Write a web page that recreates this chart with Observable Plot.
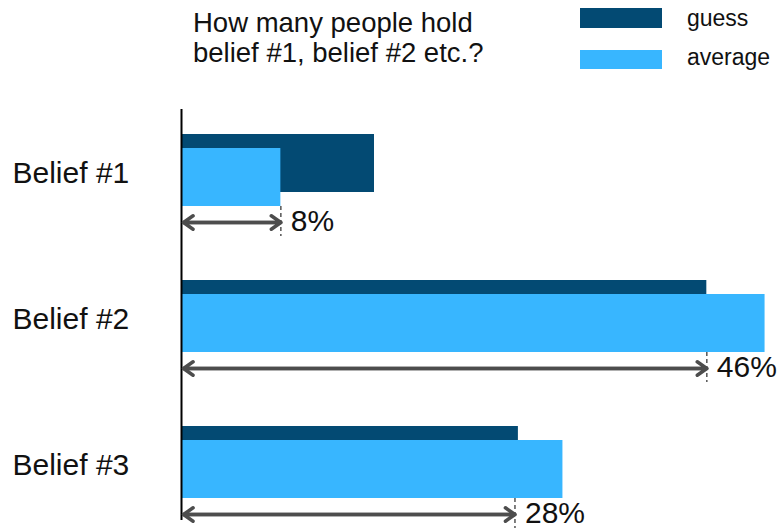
<!DOCTYPE html>
<html>
<head>
<meta charset="utf-8">
<script src="https://cdn.jsdelivr.net/npm/d3@7"></script>
<script src="https://cdn.jsdelivr.net/npm/@observablehq/plot@0.6"></script>
<style>
  body { margin: 0; background: #fff; font-family: "Liberation Sans", Arial, sans-serif; color: #111; }
  #wrap { position: relative; width: 779px; }
  #head { position: relative; height: 80px; }
  .title { position: absolute; left: 193px; top: 8.3px; font-size: 27.5px; line-height: 30px; white-space: nowrap; }
  .sw { position: absolute; left: 580px; width: 82px; height: 19.5px; }
  .lab { position: absolute; left: 687px; font-size: 23px; line-height: 23px; white-space: nowrap; }
  svg { display: block; }
</style>
</head>
<body>
<div id="wrap">
  <div id="head"></div>
  <div id="chart"></div>
</div>
<script>
// ---- data ----
const beliefs = ["Belief #1", "Belief #2", "Belief #3"];
const guessValues = [16.9, 46.0, 29.5];
const averageValues = [8.7, 51.1, 33.4];
const markerValues = [8.7, 46.0, 29.2];
const markerLabels = ["8%", "46%", "28%"];
const seriesNames = ["guess", "average"];
const seriesColors = ["#034a73", "#38b6ff"];
const titleLines = ["How many people hold", "belief #1, belief #2 etc.?"];

const rows = beliefs.map((b, i) => ({
  belief: b,
  guess: guessValues[i],
  average: averageValues[i],
  marker: markerValues[i],
  label: markerLabels[i]
}));

// ---- header: title + legend ----
const head = document.getElementById("head");
const t = document.createElement("div");
t.className = "title";
t.innerHTML = titleLines.join("<br>");
head.appendChild(t);
const swTops = [8, 49.5];
const labTops = [7, 45.5];
seriesNames.forEach((name, i) => {
  const s = document.createElement("div");
  s.className = "sw";
  s.style.top = swTops[i] + "px";
  s.style.background = seriesColors[i];
  head.appendChild(s);
  const l = document.createElement("div");
  l.className = "lab";
  l.style.top = labTops[i] + "px";
  l.textContent = name;
  head.appendChild(l);
});

// ---- chart ----
const arrowStyle = { stroke: "#4d4d4d", strokeWidth: 3.5, headLength: 5, headAngle: 70, dy: 52 };

const chart = Plot.plot({
  width: 779,
  height: 449,
  marginLeft: 181,
  marginRight: 0,
  marginTop: 29,
  marginBottom: 9,
  style: { fontFamily: "'Liberation Sans', Arial, sans-serif", background: "#fff" },
  x: { domain: [0, 52], range: [181, 181 + 52 * 11.42], axis: null },
  y: { domain: beliefs, range: [52.5, 418.5], paddingInner: 0.51, paddingOuter: 0, label: null },
  marks: [
    Plot.barX(rows, { x: "guess", y: "belief", fill: seriesColors[0], insetBottom: 14 }),
    Plot.barX(rows, { x: "average", y: "belief", fill: seriesColors[1], insetTop: 14 }),
    Plot.ruleX([0], { stroke: "#000", strokeWidth: 2 }),
    Plot.tickX(rows, { x: "marker", y: "belief", insetTop: 42, dy: 30, stroke: "#555", strokeWidth: 1.5, strokeDasharray: "4,3" }),
    Plot.arrow(rows, { x1: 0, x2: "marker", y1: "belief", y2: "belief", insetStart: 2, ...arrowStyle }),
    Plot.arrow(rows, { x1: "marker", x2: 0, y1: "belief", y2: "belief", insetEnd: 2, ...arrowStyle }),
    Plot.text(rows, { x: "marker", y: "belief", text: "label", dx: 10, dy: 51, textAnchor: "start", fontSize: 30, fill: "#111" }),
    Plot.axisY({ tickSize: 0, tickPadding: 0, textAnchor: "start", dx: -169, dy: 3, fontSize: 30, fill: "#111", label: null })
  ]
});
document.getElementById("chart").appendChild(chart);
</script>
</body>
</html>
